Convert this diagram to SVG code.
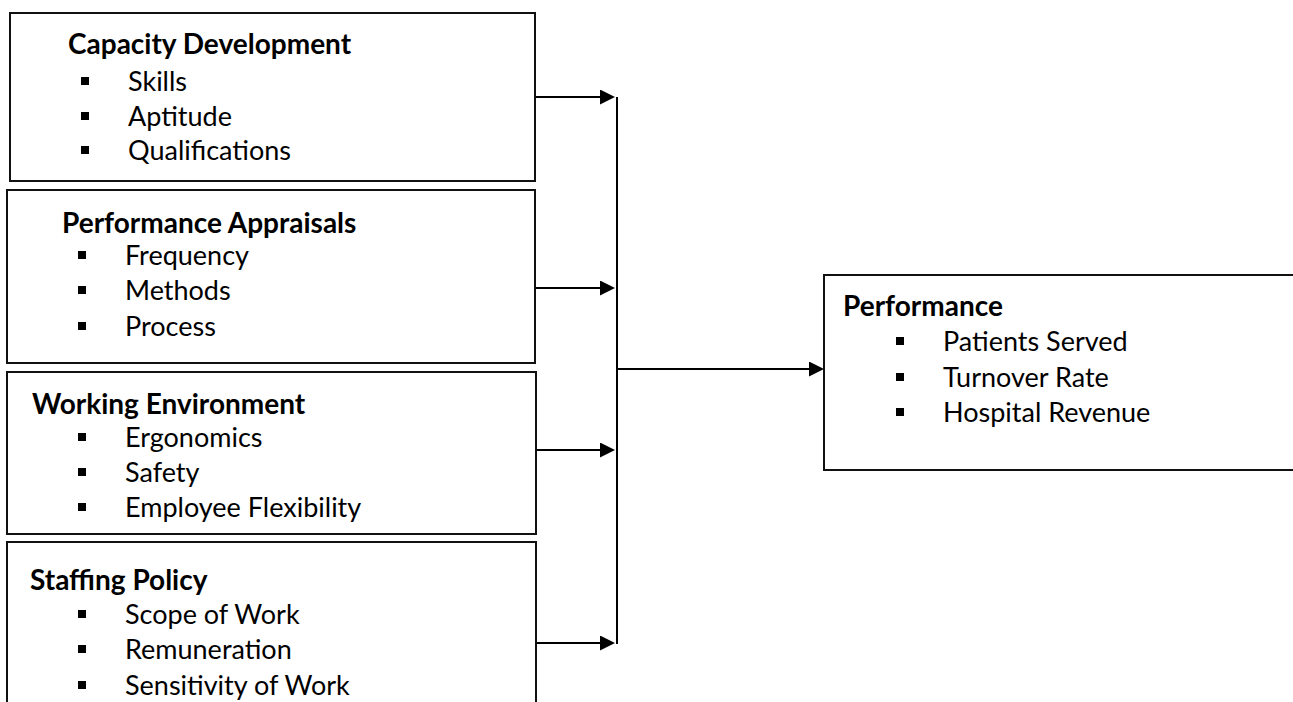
<svg xmlns="http://www.w3.org/2000/svg" width="1293" height="702" viewBox="0 0 1293 702">
<style>
.box{fill:#fff;stroke:#111;stroke-width:2}
.t{font-family:Lato,"Liberation Sans",sans-serif;font-size:27px;fill:#000}
.h{font-weight:bold;font-size:28px}
.b{fill:#000}
.c{stroke:#000;stroke-width:2;fill:none}
</style>
<defs>
<marker id="ah" viewBox="0 0 15 15" refX="5" refY="7.5" markerWidth="15" markerHeight="15" markerUnits="userSpaceOnUse" orient="auto">
<path d="M0,0 L15,7.5 L0,15 z" fill="#000"/>
</marker>
</defs>
<rect x="0" y="0" width="1293" height="702" fill="#fff"/>
<g id="capacity">
<rect class="box" x="10" y="13" width="525" height="168"/>
<text class="t h" x="68" y="54">Capacity Development</text>
<rect class="b" x="81" y="77" width="8" height="8"/><text class="t" x="128" y="91">Skills</text>
<rect class="b" x="81" y="112" width="8" height="8"/><text class="t" x="128" y="126">Aptitude</text>
<rect class="b" x="81" y="146" width="8" height="8"/><text class="t" x="128" y="160">Qualifications</text>
</g>
<g id="appraisals">
<rect class="box" x="7" y="190" width="528" height="173"/>
<text class="t h" x="62" y="233">Performance Appraisals</text>
<rect class="b" x="78" y="251" width="8" height="8"/><text class="t" x="125" y="265">Frequency</text>
<rect class="b" x="78" y="286" width="8" height="8"/><text class="t" x="125" y="300">Methods</text>
<rect class="b" x="78" y="322" width="8" height="8"/><text class="t" x="125" y="336">Process</text>
</g>
<g id="environment">
<rect class="box" x="7" y="372" width="529" height="162"/>
<text class="t h" x="32" y="414">Working Environment</text>
<rect class="b" x="78" y="433" width="8" height="8"/><text class="t" x="125" y="447">Ergonomics</text>
<rect class="b" x="78" y="468" width="8" height="8"/><text class="t" x="125" y="482">Safety</text>
<rect class="b" x="78" y="503" width="8" height="8"/><text class="t" x="125" y="517">Employee Flexibility</text>
</g>
<g id="staffing">
<rect class="box" x="7" y="542" width="529" height="180"/>
<text class="t h" x="30" y="590">Staffing Policy</text>
<rect class="b" x="78" y="610" width="8" height="8"/><text class="t" x="125" y="624">Scope of Work</text>
<rect class="b" x="78" y="645" width="8" height="8"/><text class="t" x="125" y="659">Remuneration</text>
<rect class="b" x="78" y="681" width="8" height="8"/><text class="t" x="125" y="695">Sensitivity of Work</text>
</g>
<g id="performance">
<rect class="box" x="824" y="275" width="480" height="195"/>
<text class="t h" x="843" y="316">Performance</text>
<rect class="b" x="896" y="337" width="8" height="8"/><text class="t" x="943" y="351">Patients Served</text>
<rect class="b" x="896" y="373" width="8" height="8"/><text class="t" x="943" y="387">Turnover Rate</text>
<rect class="b" x="896" y="408" width="8" height="8"/><text class="t" x="943" y="422">Hospital Revenue</text>
</g>
<g id="connectors">
<line class="c" x1="536" y1="97" x2="605" y2="97" marker-end="url(#ah)"/>
<line class="c" x1="536" y1="288" x2="605" y2="288" marker-end="url(#ah)"/>
<line class="c" x1="537" y1="450" x2="605" y2="450" marker-end="url(#ah)"/>
<line class="c" x1="537" y1="643" x2="605" y2="643" marker-end="url(#ah)"/>
<line class="c" x1="617" y1="97" x2="617" y2="644"/>
<line class="c" x1="617" y1="369" x2="814" y2="369" marker-end="url(#ah)"/>
</g>
</svg>
